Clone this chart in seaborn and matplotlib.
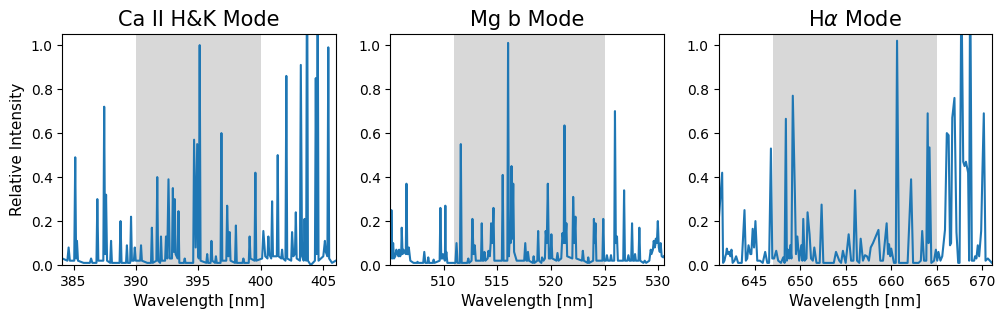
import pandas as pd
import matplotlib
matplotlib.use("Agg")
import matplotlib.pyplot as plt
import seaborn as sns

# Ca II H&K window: line peaks and the baseline between them
ca_peak_wl = [384.6, 385.13, 385.27, 386.4, 386.9, 387.45, 387.6, 388.0, 388.76, 389.27,
              389.6, 389.9, 390.4, 391.27, 391.7, 392.0, 392.4, 392.6, 392.95, 393.1,
              393.4, 393.9, 394.65, 394.9, 395.1, 395.7, 396.04, 396.4, 396.84, 397.3,
              397.5, 398.0, 398.6, 399.1, 399.56, 400.2, 400.6, 400.9, 401.35, 401.7,
              402.04, 402.5, 402.8, 403.2, 403.5, 403.7, 404.4, 404.55, 405.13, 405.4]
ca_peak_int = [0.08, 0.49, 0.11, 0.03, 0.30, 0.72, 0.32, 0.11, 0.20, 0.09,
               0.22, 0.08, 0.09, 0.17, 0.40, 0.13, 0.13, 0.39, 0.35, 0.30,
               0.245, 0.03, 0.57, 0.55, 1.0, 0.05, 0.11, 0.04, 0.60, 0.27,
               0.15, 0.18, 0.03, 0.13, 0.42, 0.155, 0.13, 0.29, 0.50, 0.07,
               0.86, 0.15, 0.24, 0.91, 0.21, 1.6, 0.85, 1.3, 0.11, 0.99]
ca_base_wl = [384.1, 384.5, 384.7, 385.05, 385.2, 385.35, 385.8, 386.3, 386.5, 386.83,
              386.98, 387.38, 387.52, 387.68, 387.93, 388.07, 388.68, 388.84, 389.2, 389.34,
              389.53, 389.67, 389.83, 389.98, 390.33, 390.47, 390.9, 391.2, 391.34, 391.63,
              391.77, 391.93, 392.07, 392.33, 392.5, 392.7, 392.88, 393.03, 393.17, 393.33,
              393.47, 393.83, 393.97, 394.58, 394.78, 394.97, 395.03, 395.17, 395.63, 395.77,
              395.97, 396.11, 396.33, 396.47, 396.77, 396.91, 397.23, 397.4, 397.57, 397.93,
              398.07, 398.53, 398.67, 399.03, 399.17, 399.49, 399.63, 400.1, 400.35, 400.53,
              400.67, 400.83, 400.97, 401.28, 401.42, 401.63, 401.77, 401.97, 402.11, 402.43,
              402.6, 402.73, 402.87, 403.13, 403.3, 403.43, 403.57, 403.63, 403.77, 404.0,
              404.33, 404.47, 404.62, 405.0, 405.2, 405.33, 405.47, 405.7, 406.0]
ca_base_int = [0.03, 0.02, 0.02, 0.02, 0.03, 0.02, 0.01, 0.01, 0.01, 0.01,
               0.02, 0.02, 0.05, 0.02, 0.01, 0.01, 0.01, 0.01, 0.01, 0.01,
               0.01, 0.02, 0.02, 0.02, 0.02, 0.02, 0.01, 0.01, 0.01, 0.02,
               0.02, 0.01, 0.02, 0.02, 0.03, 0.03, 0.03, 0.06, 0.05, 0.03,
               0.01, 0.01, 0.01, 0.01, 0.08, 0.04, 0.03, 0.02, 0.01, 0.01,
               0.01, 0.02, 0.01, 0.01, 0.01, 0.02, 0.02, 0.04, 0.02, 0.01,
               0.01, 0.01, 0.01, 0.01, 0.03, 0.02, 0.02, 0.03, 0.04, 0.03,
               0.05, 0.03, 0.04, 0.04, 0.04, 0.03, 0.03, 0.02, 0.03, 0.02,
               0.04, 0.05, 0.03, 0.02, 0.04, 0.02, 0.03, 0.02, 0.02, 0.0,
               0.02, 0.05, 0.02, 0.04, 0.06, 0.04, 0.03, 0.01, 0.02]

# Mg b window
mg_peak_wl = [505.14, 505.3, 505.6, 505.86, 506.1, 506.26, 506.54, 506.76, 507.57, 508.2,
              508.57, 509.07, 509.7, 509.94, 510.16, 510.25, 511.2, 511.6, 512.3, 512.68,
              512.9, 513.55, 513.8, 514.17, 514.42, 514.64, 515.5, 516.0, 516.17, 516.32,
              516.48, 517.6, 517.85, 518.38, 518.8, 519.16, 519.5, 519.7, 520.03, 520.6,
              521.06, 521.25, 521.43, 522.06, 522.27, 522.96, 523.46, 523.99, 524.14, 524.86,
              525.2, 525.58, 525.95, 526.14, 526.8, 527.2, 527.54, 527.82, 528.22, 528.72,
              529.28, 529.56, 529.75, 529.94, 530.2, 530.45]
mg_peak_int = [0.25, 0.10, 0.07, 0.07, 0.17, 0.07, 0.37, 0.08, 0.015, 0.06,
               0.035, 0.025, 0.26, 0.05, 0.27, 0.06, 0.10, 0.55, 0.03, 0.21,
               0.09, 0.19, 0.06, 0.065, 0.19, 0.26, 0.41, 1.01, 0.16, 0.45,
               0.37, 0.10, 0.06, 0.04, 0.155, 0.035, 0.155, 0.37, 0.14, 0.055,
               0.145, 0.635, 0.19, 0.31, 0.22, 0.065, 0.035, 0.21, 0.19, 0.21,
               0.045, 0.045, 0.70, 0.13, 0.34, 0.045, 0.19, 0.05, 0.17, 0.02,
               0.07, 0.11, 0.12, 0.20, 0.10, 0.035]
mg_base_wl = [505.0, 505.08, 505.22, 505.38, 505.5, 505.7, 505.8, 505.95, 506.05, 506.18,
              506.22, 506.38, 506.48, 506.62, 506.7, 506.9, 507.2, 507.5, 507.65, 508.1,
              508.3, 508.5, 508.65, 509.0, 509.15, 509.63, 509.78, 509.88, 510.05, 510.12,
              510.2, 510.35, 511.1, 511.3, 511.52, 511.68, 512.2, 512.38, 512.6, 512.78,
              512.84, 513.0, 513.48, 513.62, 513.72, 513.9, 514.1, 514.3, 514.38, 514.54,
              514.72, 515.42, 515.58, 515.93, 516.08, 516.24, 516.4, 516.56, 516.8, 517.5,
              517.7, 517.8, 517.95, 518.3, 518.46, 518.72, 518.88, 519.1, 519.3, 519.43,
              519.6, 519.8, 519.95, 520.12, 520.5, 520.7, 520.95, 521.18, 521.33, 521.5,
              521.98, 522.17, 522.35, 522.88, 523.05, 523.4, 523.55, 523.92, 524.06, 524.22,
              524.78, 524.95, 525.12, 525.3, 525.5, 525.66, 525.88, 526.03, 526.22, 526.72,
              526.88, 527.1, 527.3, 527.46, 527.62, 527.75, 527.9, 528.14, 528.3, 528.6,
              528.85, 529.15, 529.35, 529.48, 529.65, 529.7, 529.85, 530.03, 530.12, 530.3,
              530.5]
mg_base_int = [0.03, 0.03, 0.03, 0.03, 0.04, 0.05, 0.04, 0.04, 0.05, 0.05,
               0.06, 0.06, 0.05, 0.05, 0.05, 0.02, 0.01, 0.01, 0.01, 0.01,
               0.01, 0.01, 0.01, 0.01, 0.01, 0.02, 0.03, 0.03, 0.03, 0.02,
               0.03, 0.01, 0.01, 0.01, 0.01, 0.01, 0.01, 0.01, 0.02, 0.05,
               0.06, 0.02, 0.02, 0.02, 0.02, 0.02, 0.03, 0.04, 0.10, 0.10,
               0.02, 0.02, 0.02, 0.02, 0.04, 0.10, 0.12, 0.06, 0.02, 0.02,
               0.02, 0.02, 0.02, 0.01, 0.01, 0.02, 0.02, 0.01, 0.02, 0.03,
               0.10, 0.03, 0.03, 0.03, 0.02, 0.02, 0.03, 0.10, 0.10, 0.04,
               0.03, 0.10, 0.03, 0.02, 0.02, 0.01, 0.01, 0.02, 0.10, 0.02,
               0.02, 0.02, 0.02, 0.02, 0.02, 0.02, 0.02, 0.10, 0.02, 0.02,
               0.02, 0.02, 0.02, 0.02, 0.02, 0.02, 0.02, 0.02, 0.02, 0.01,
               0.01, 0.02, 0.05, 0.07, 0.08, 0.09, 0.10, 0.08, 0.06, 0.04,
               0.04]

# H-alpha window
ha_peak_wl = [641.05, 641.45, 641.8, 641.96, 642.25, 642.47, 642.98, 643.9, 644.34, 644.8,
              645.1, 646.17, 646.8, 647.38, 648.15, 648.44, 648.66, 648.92, 649.2, 649.43,
              649.7, 650.13, 650.35, 650.82, 651.04, 651.56, 652.36, 653.94, 654.7, 655.33,
              656.03, 656.65, 657.12, 657.34, 657.75, 658.0, 658.3, 658.6, 659.5, 659.76,
              660.0, 660.64, 661.96, 662.18, 663.4, 664.0, 664.2, 664.9, 665.18, 665.73,
              665.9, 666.1, 666.3, 666.57, 666.7, 666.94, 667.16, 667.7, 667.9, 668.2,
              668.44, 668.66, 669.2, 669.5, 669.87, 670.0, 670.16]
ha_peak_int = [0.19, 0.42, 0.04, 0.075, 0.06, 0.07, 0.04, 0.25, 0.09, 0.165,
               0.20, 0.06, 0.53, 0.065, 0.035, 0.665, 0.07, 0.09, 0.77, 0.325,
               0.13, 0.09, 0.21, 0.24, 0.14, 0.08, 0.275, 0.06, 0.065, 0.14,
               0.34, 0.12, 0.045, 0.04, 0.08, 0.10, 0.13, 0.16, 0.19, 0.095,
               0.075, 1.02, 0.175, 0.39, 0.155, 0.69, 0.535, 0.07, 0.06, 0.09,
               0.16, 0.60, 0.59, 0.10, 0.67, 0.76, 0.15, 1.3, 0.47, 0.47,
               0.42, 1.4, 0.04, 0.09, 0.155, 0.41, 0.69]
ha_base_wl = [641.55, 641.7, 641.88, 642.1, 642.35, 642.6, 642.8, 643.2, 643.6, 644.05,
              644.2, 644.55, 644.65, 644.95, 645.3, 645.6, 645.9, 646.4, 646.6, 646.95,
              647.15, 647.6, 647.9, 648.3, 648.55, 648.8, 649.05, 649.55, 649.9, 650.25,
              650.5, 650.7, 651.2, 651.4, 651.8, 652.15, 652.55, 653.3, 653.7, 654.3,
              654.5, 655.0, 655.6, 655.85, 656.25, 656.5, 656.9, 657.55, 658.8, 659.1,
              659.65, 659.9, 660.3, 660.5, 660.85, 661.5, 661.8, 662.4, 663.0, 663.25,
              663.6, 663.85, 664.1, 664.4, 664.7, 665.05, 665.4, 665.6, 666.45, 667.35,
              667.5, 668.05, 668.55, 668.85, 669.1, 669.35, 669.65, 670.35, 670.6, 671.05]
ha_base_int = [0.01, 0.02, 0.05, 0.05, 0.04, 0.01, 0.02, 0.01, 0.01, 0.02,
               0.03, 0.05, 0.05, 0.08, 0.02, 0.02, 0.01, 0.01, 0.01, 0.03,
               0.03, 0.02, 0.01, 0.01, 0.02, 0.03, 0.03, 0.05, 0.02, 0.02,
               0.02, 0.03, 0.03, 0.02, 0.01, 0.01, 0.01, 0.01, 0.01, 0.02,
               0.01, 0.01, 0.02, 0.02, 0.02, 0.01, 0.02, 0.02, 0.02, 0.02,
               0.05, 0.04, 0.01, 0.01, 0.01, 0.01, 0.01, 0.01, 0.01, 0.02,
               0.02, 0.02, 0.10, 0.01, 0.02, 0.02, 0.02, 0.04, 0.09, 0.01,
               0.01, 0.45, 0.02, 0.02, 0.02, 0.03, 0.04, 0.02, 0.03, 0.01]

modes = [
    ("Ca II H&K Mode", ca_peak_wl, ca_peak_int, ca_base_wl, ca_base_int, (390, 400), (384.1, 406.0)),
    ("Mg b Mode", mg_peak_wl, mg_peak_int, mg_base_wl, mg_base_int, (511, 525), (505.05, 530.5)),
    (r"H$\alpha$ Mode", ha_peak_wl, ha_peak_int, ha_base_wl, ha_base_int, (647, 665), (641.05, 671.05)),
]

fig, axes = plt.subplots(1, 3, figsize=(10.06, 3.19), dpi=100)
fig.subplots_adjust(left=0.062, right=0.986, bottom=0.169, top=0.893, wspace=0.2)

for ax, (title, pw, pi, bw, bi, band, xlim) in zip(axes, modes):
    df = pd.concat([
        pd.DataFrame({"wl": pw, "intensity": pi}),
        pd.DataFrame({"wl": bw, "intensity": bi}),
    ]).sort_values("wl")
    ax.axvspan(band[0], band[1], color="gray", alpha=0.3, lw=0)
    sns.lineplot(data=df, x="wl", y="intensity", ax=ax, estimator=None,
                 sort=True, color="tab:blue", linewidth=1.5)
    ax.set_xlim(*xlim)
    ax.set_ylim(0, 1.05)
    ax.set_title(title, fontsize=15)
    ax.set_xlabel("Wavelength [nm]", fontsize=11)
    ax.set_ylabel("")

axes[0].set_ylabel("Relative Intensity", fontsize=11)

plt.savefig("out.png", dpi=100)
